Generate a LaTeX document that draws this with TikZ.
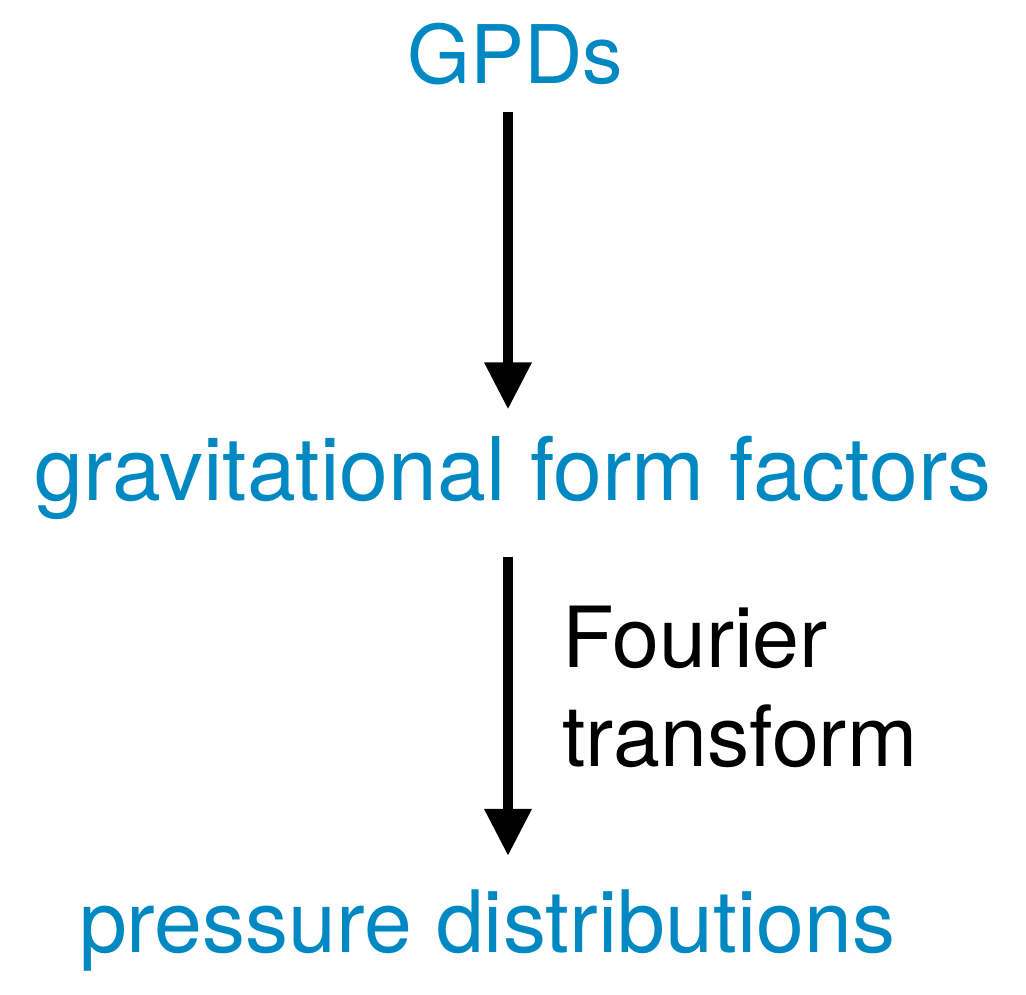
\documentclass[tikz,border=0pt]{standalone}
\usepackage{fontspec}
\setmainfont{TeX Gyre Heros}
\usepackage{xcolor}
\usetikzlibrary{arrows.meta,positioning,calc}
\definecolor{gpdblue}{RGB}{0,136,194}
\begin{document}
\begin{tikzpicture}[x=0.02cm,y=-0.02cm,
  lbl/.style={text=gpdblue,inner sep=0pt,anchor=base,font=\fontsize{50}{60}\selectfont},
  note/.style={inner sep=0pt,anchor=base west,font=\fontsize{48}{58}\selectfont},
  flow/.style={line width=0.2cm,-{Triangle[length=0.94cm,width=0.9cm]}}]
\useasboundingbox (0,0) rectangle (1026,994);
\coordinate (axis) at (508,0);
\node[lbl,font=\fontsize{46}{55}\selectfont] (gpds) at (515,83) {GPDs};
\node[lbl] (gff) at (513,500) {gravitational form factors};
\node[lbl,font=\fontsize{49}{59}\selectfont] (pd) at (487,952) {pressure distributions};
\node[note] (ft1) at (562,667) {Fourier};
\node[note,below=2cm of ft1.base west,anchor=base west] (ft2) {transform};
\draw[flow,shorten <=0.54cm,shorten >=0.52cm] (gpds.south -| axis) -- (gff.north -| axis);
\draw[flow,shorten <=0.74cm,shorten >=0.66cm] (gff.south -| axis) -- (pd.north -| axis);
\end{tikzpicture}
\end{document}
